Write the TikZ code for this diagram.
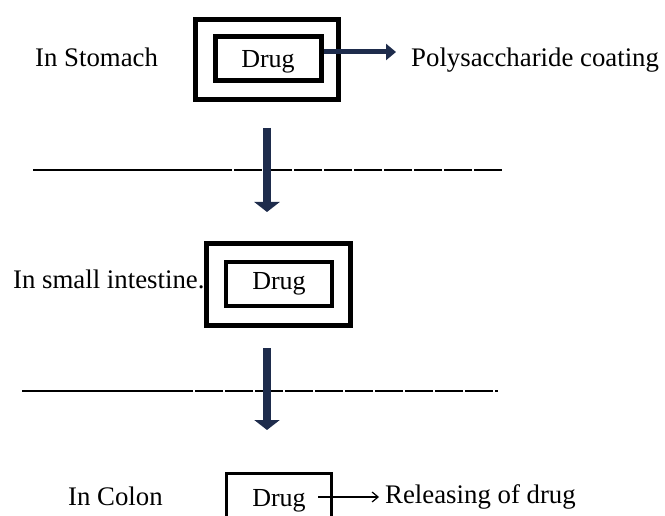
\documentclass[tikz,border=0pt]{standalone}
\usepackage{fontspec}
\setmainfont{Liberation Serif}
\usetikzlibrary{arrows.meta}
\definecolor{navy}{HTML}{1E2C4C}
\tikzset{
  lbl/.style={inner sep=0pt, anchor=base west, font=\fontsize{26.8}{30}\selectfont},
  drugbox/.style={draw=black, inner sep=0pt, font=\fontsize{26}{30}\selectfont},
  coat/.style={draw=black, line width=5pt},
  bigarrow/.style={draw=navy, line width=8pt, -{Triangle[length=10pt,width=25pt]}},
  sidearrow/.style={draw=navy, line width=5pt, -{Triangle[length=10pt,width=16pt]}},
  thinarrow/.style={draw=black, line width=1.2pt, -{Straight Barb[length=6pt,width=10pt]}, shorten >=6pt},
  rule/.style={draw=black, line width=2pt}
}
\begin{document}
\begin{tikzpicture}[x=1pt,y=-1pt]
\useasboundingbox (0,0) rectangle (665,516);
\fill[white] (0,0) rectangle (665,516);
\clip (0,0) rectangle (665,516);

% ---- Stomach ----
\draw[coat] (195.5,19.5) rectangle (338,100);
\node[drugbox, line width=5pt, minimum width=106pt, minimum height=44.5pt] (in1) at (268,58.75) {\raisebox{-3pt}[\height][\depth]{Drug}};
\node[lbl] (stom) at (35,67) {In Stomach};
\node[lbl] (poly) at (411,67) {Polysaccharide coating};
\coordinate (t1) at (396,52);
\draw[sidearrow] (in1.east |- t1) -- (t1);

% ---- separator 1 ----
\draw[rule] (33,170) -- (204,170);
\draw[rule, dash pattern=on 28pt off 2pt] (204,170) -- (502,170);

% ---- Small intestine ----
\coordinate (a1s) at (267,128);
\coordinate (a1e) at (267,212);
\draw[bigarrow] (a1s) -- (a1e);

\draw[coat] (206.5,243.5) rectangle (350.5,325.5);
\node[drugbox, line width=4.5pt, minimum width=106pt, minimum height=44pt] (in2) at (279,284) {Drug};
\node[lbl] (si) at (13,288) {In small intestine.};

% ---- separator 2 ----
\draw[rule] (22,391) -- (165,391);
\draw[rule, dash pattern=on 28pt off 2pt] (165,391) -- (498,391);

\coordinate (a2s) at (267,348);
\coordinate (a2e) at (267,430);
\draw[bigarrow] (a2s) -- (a2e);

% ---- Colon ----
\node[drugbox, line width=3.5pt, minimum width=105pt, minimum height=56pt] (in3) at (279,501.5) {\raisebox{7pt}{Drug}};
\node[lbl] (col) at (68,505) {In Colon};
\node[lbl] (rel) at (385,503) {Releasing of drug};
\coordinate (r0) at (318,497);
\draw[thinarrow] (r0) -- (rel.west |- r0);
\end{tikzpicture}
\end{document}
